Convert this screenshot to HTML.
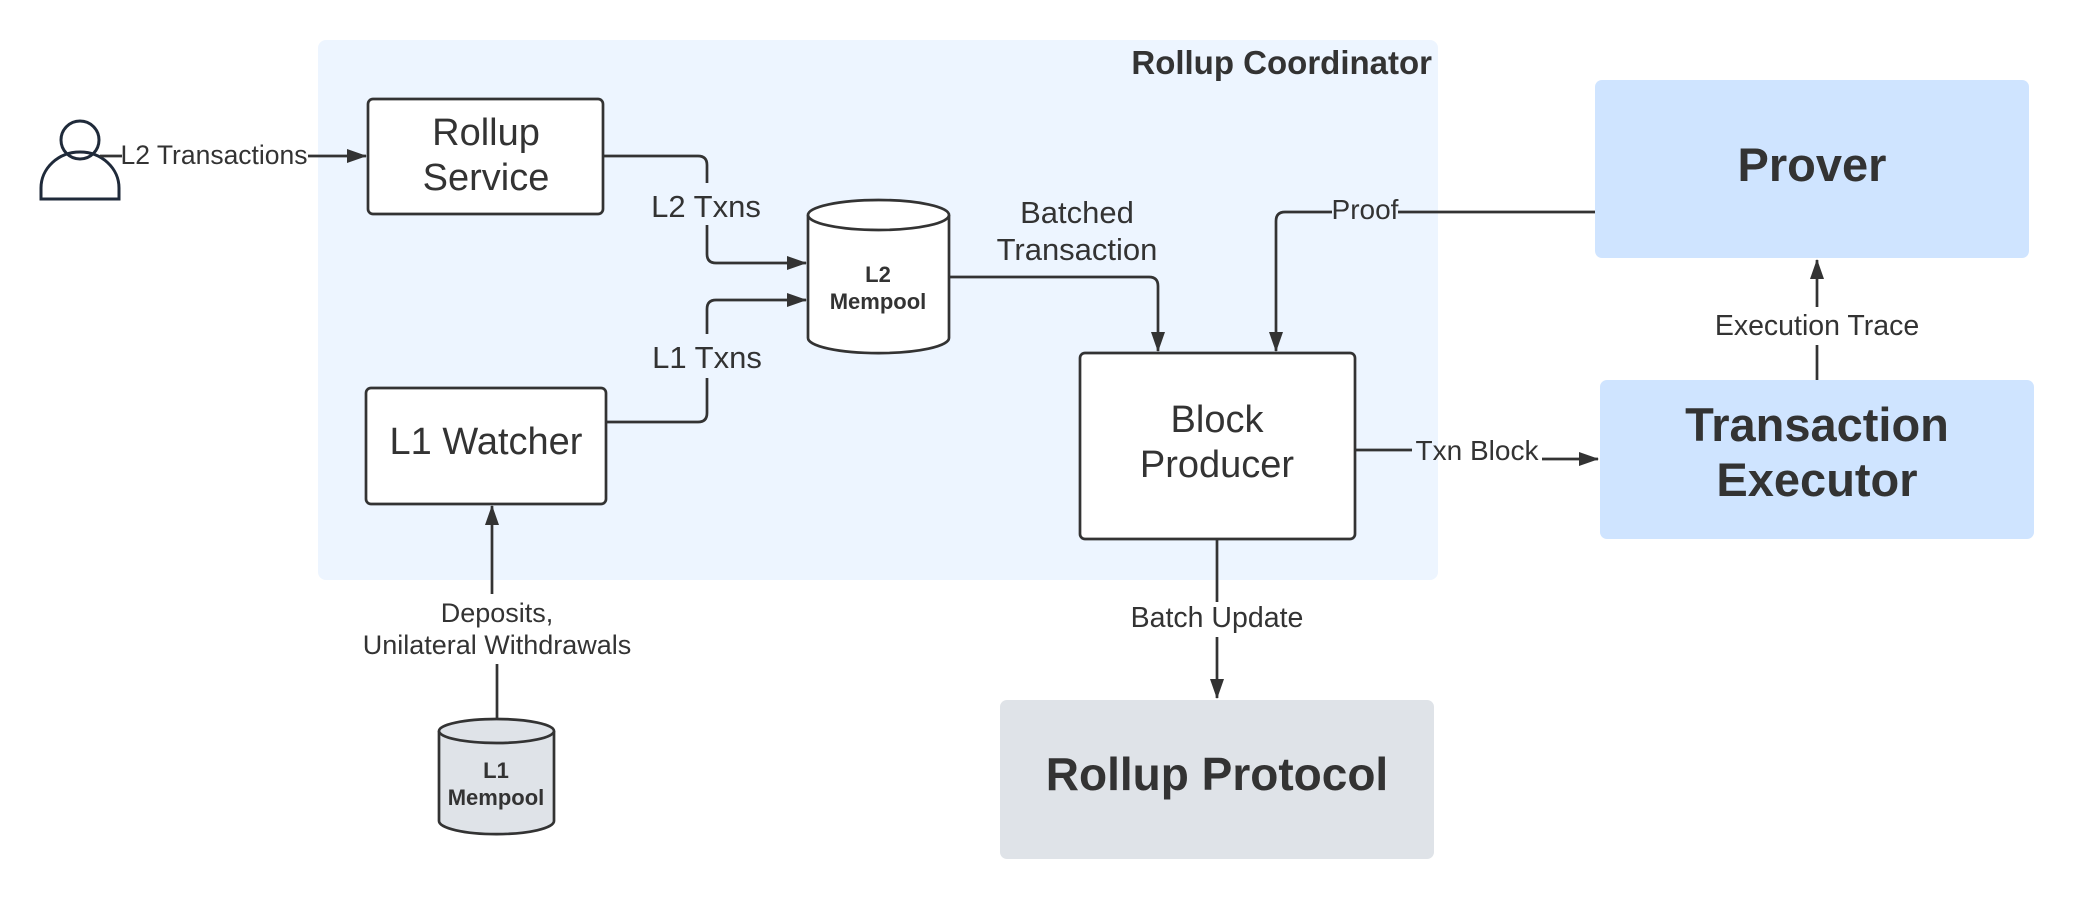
<!DOCTYPE html>
<html><head><meta charset="utf-8"><style>
html,body{margin:0;padding:0;background:#fff;}
svg{display:block;font-family:"Liberation Sans",sans-serif;}
</style></head><body>
<svg width="2075" height="900" viewBox="0 0 2075 900" xmlns="http://www.w3.org/2000/svg">
<defs>
<marker id="b" viewBox="0 0 20 14" markerWidth="20" markerHeight="14" refX="19" refY="7" orient="auto" markerUnits="userSpaceOnUse"><path d="M0,0 L20,7 L0,14 z" fill="#333"/></marker>
</defs>
<rect x="318" y="40" width="1120" height="540" rx="8" fill="#edf5ff"/>
<text x="1432" y="74" text-anchor="end" font-size="33" font-weight="bold" fill="#333">Rollup Coordinator</text>

<rect x="1595" y="80" width="434" height="178" rx="7" fill="#cfe4ff"/>
<text x="1812" y="181" text-anchor="middle" font-size="47" font-weight="bold" fill="#333">Prover</text>
<rect x="1600" y="380" width="434" height="159" rx="7" fill="#cfe4ff"/>
<text x="1817" y="441" text-anchor="middle" font-size="47" font-weight="bold" fill="#333">Transaction</text>
<text x="1817" y="496" text-anchor="middle" font-size="47" font-weight="bold" fill="#333">Executor</text>
<rect x="1000" y="700" width="434" height="159" rx="7" fill="#dfe3e8"/>
<text x="1217" y="790" text-anchor="middle" font-size="46" font-weight="bold" fill="#333">Rollup Protocol</text>

<g fill="#fff" stroke="#333" stroke-width="2.7">
<rect x="368" y="99" width="235" height="115" rx="5"/>
<rect x="366" y="388" width="240" height="116" rx="5"/>
<rect x="1080" y="353" width="275" height="186" rx="5"/>
</g>
<g font-size="38" fill="#333" text-anchor="middle">
<text x="486" y="145">Rollup</text>
<text x="486" y="190">Service</text>
<text x="486" y="454">L1 Watcher</text>
<text x="1217" y="432">Block</text>
<text x="1217" y="477">Producer</text>
</g>

<g stroke="#333" stroke-width="2.7">
<path d="M808,215 L808,338 A70,15 0 0 0 949,338 L949,215" fill="#fff"/>
<ellipse cx="878.5" cy="215" rx="70.5" ry="15" fill="#fff"/>
<path d="M439,731 L439,821 A57,13 0 0 0 554,821 L554,731" fill="#dfe3e8"/>
<ellipse cx="496.5" cy="731" rx="57.5" ry="12" fill="#dfe3e8"/>
</g>
<g font-size="22" font-weight="bold" fill="#333" text-anchor="middle">
<text x="878" y="282">L2</text><text x="878" y="309">Mempool</text>
<text x="496" y="778">L1</text><text x="496" y="805">Mempool</text>
</g>

<g stroke="#1f2a3a" stroke-width="3" fill="none">
<circle cx="80" cy="140" r="19"/>
<path d="M41,199 L41,188 A39,36 0 0 1 119,188 L119,199 Z"/>
</g>

<g stroke="#333" stroke-width="2.7" fill="none">
<path d="M100,156 L122,156 M308,156 L366,156" marker-end="url(#b)"/>
<path d="M603,156 L698,156 Q707,156 707,165 L707,183 M707,225 L707,254 Q707,263 716,263 L806,263" marker-end="url(#b)"/>
<path d="M606,422 L698,422 Q707,422 707,413 L707,378 M707,334 L707,309 Q707,300 716,300 L806,300" marker-end="url(#b)"/>
<path d="M949,277 L1149,277 Q1158,277 1158,286 L1158,351" marker-end="url(#b)"/>
<path d="M1595,212 L1398,212 M1332,212 L1285,212 Q1276,212 1276,221 L1276,351" marker-end="url(#b)"/>
<path d="M1355,450 L1412,450 M1542,459 L1598,459" marker-end="url(#b)"/>
<path d="M1817,380 L1817,345 M1817,307 L1817,260" marker-end="url(#b)"/>
<path d="M1217,539 L1217,602 M1217,637 L1217,698" marker-end="url(#b)"/>
<path d="M497,719 L497,664 M492,594 L492,506" marker-end="url(#b)"/>
</g>

<g fill="#333" text-anchor="middle">
<text x="214" y="164" font-size="26.5">L2 Transactions</text>
<text x="1365" y="219" font-size="28">Proof</text>
<text x="1477" y="460" font-size="28">Txn Block</text>
<text x="1817" y="335" font-size="28.5">Execution Trace</text>
<text x="1217" y="627" font-size="28.5">Batch Update</text>
<text x="497" y="622" font-size="27">Deposits,</text>
<text x="497" y="654" font-size="27">Unilateral Withdrawals</text>
</g>
<g font-size="31" fill="#333" text-anchor="middle">
<text x="706" y="217">L2 Txns</text>
<text x="707" y="368">L1 Txns</text>
<text x="1077" y="223">Batched</text>
<text x="1077" y="260">Transaction</text>
</g>
</svg>
</body></html>
